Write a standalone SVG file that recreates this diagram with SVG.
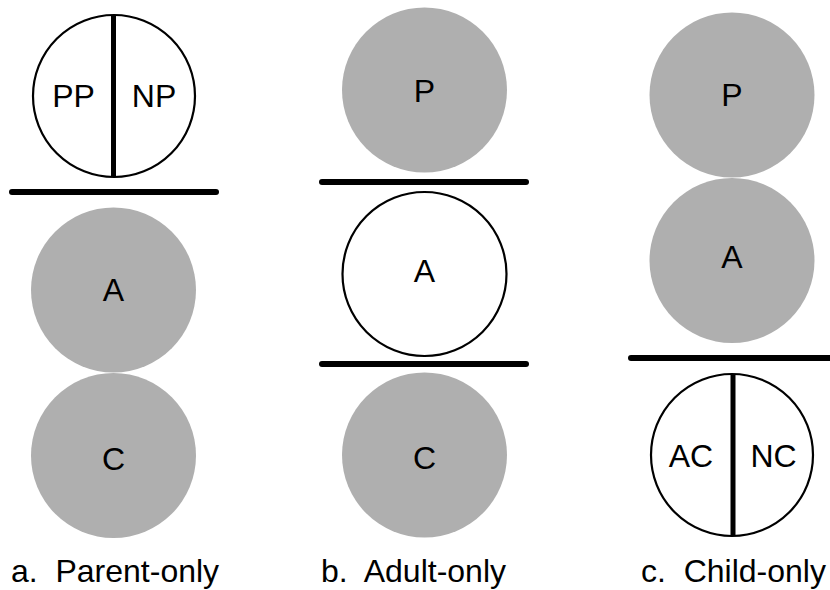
<svg xmlns="http://www.w3.org/2000/svg" width="830" height="590" viewBox="0 0 830 590">
<style>
text{font-family:"Liberation Sans",Arial,Helvetica,sans-serif;font-size:32px;fill:#000}
.m{text-anchor:middle}
.g{fill:#afafaf;stroke:none}
.w{fill:#fff;stroke:#000;stroke-width:2.2}
.div{stroke:#000;stroke-width:5}
.bar{stroke:#000;stroke-width:6;stroke-linecap:round}
.lab{white-space:pre}
</style>
<rect width="830" height="590" fill="#fff"/>
<g id="col-a">
  <g id="a-PPNP">
    <circle class="w" cx="114" cy="96" r="81"/>
    <line class="div" x1="113.5" y1="15" x2="113.5" y2="177"/>
    <text class="m" x="73.5" y="107">PP</text>
    <text class="m" x="154" y="107">NP</text>
  </g>
  <g id="a-A">
    <circle class="g" cx="113.5" cy="290" r="82.5"/>
    <text class="m" x="113.5" y="301">A</text>
  </g>
  <g id="a-C">
    <circle class="g" cx="113.5" cy="455.5" r="82.5"/>
    <text class="m" x="113.5" y="470">C</text>
  </g>
  <text class="lab" x="11" y="582" xml:space="preserve">a.  Parent-only</text>
</g>
<g id="col-b">
  <g id="b-P">
    <circle class="g" cx="424.5" cy="90" r="82.5"/>
    <text class="m" x="424.5" y="102">P</text>
  </g>
  <g id="b-A">
    <circle class="w" cx="424.5" cy="274" r="82"/>
    <text class="m" x="424.5" y="282">A</text>
  </g>
  <g id="b-C">
    <circle class="g" cx="424.5" cy="455" r="82.5"/>
    <text class="m" x="424.5" y="469">C</text>
  </g>
  <text class="lab" x="321" y="582" xml:space="preserve">b.  Adult-only</text>
</g>
<g id="col-c">
  <g id="c-P">
    <circle class="g" cx="732" cy="95" r="82.5"/>
    <text class="m" x="732" y="106">P</text>
  </g>
  <g id="c-A">
    <circle class="g" cx="732" cy="260.5" r="82.5"/>
    <text class="m" x="732" y="268">A</text>
  </g>
  <g id="c-ACNC">
    <circle class="w" cx="732" cy="455" r="81"/>
    <line class="div" x1="733" y1="374" x2="733" y2="536"/>
    <text class="m" x="691" y="467">AC</text>
    <text class="m" x="773.5" y="467">NC</text>
  </g>
  <text class="lab" x="641" y="582" xml:space="preserve">c.  Child-only</text>
</g>
<g id="connectors">
  <line class="bar" x1="12" y1="192" x2="216" y2="192"/>
  <line class="bar" x1="322" y1="182" x2="526" y2="182"/>
  <line class="bar" x1="322" y1="364" x2="526" y2="364"/>
  <line class="bar" x1="631" y1="358" x2="834" y2="358"/>
</g>
</svg>
